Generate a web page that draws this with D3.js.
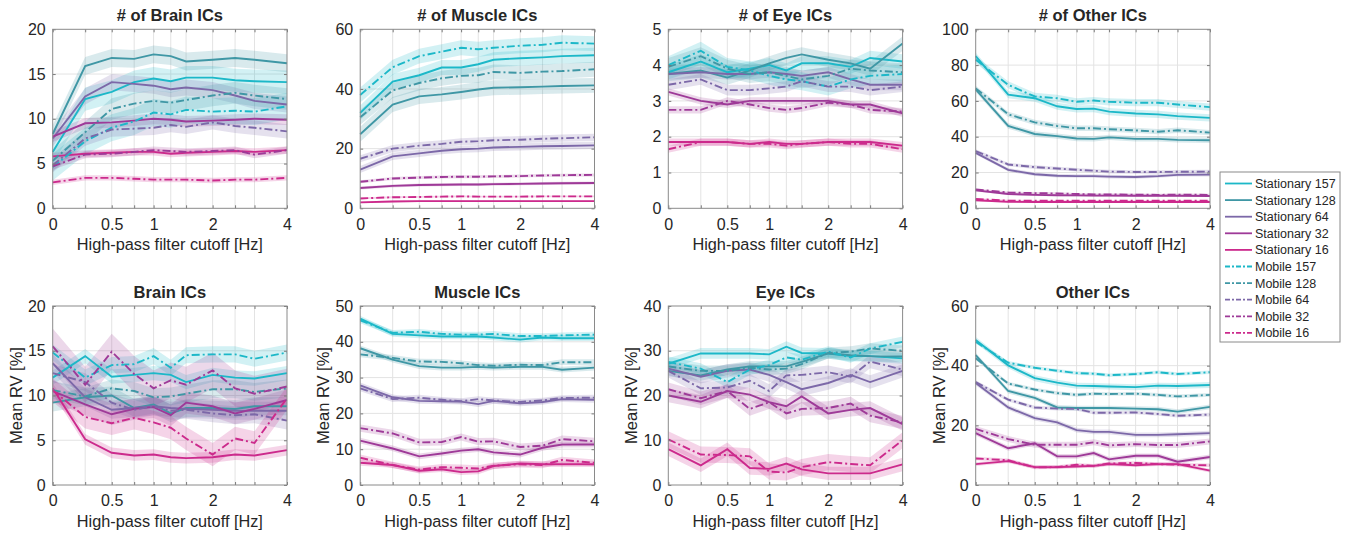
<!DOCTYPE html>
<html><head><meta charset="utf-8">
<script src="https://cdn.jsdelivr.net/npm/d3@7"></script>
<style>
html,body{margin:0;padding:0;background:#fff;}
svg text{font-family:"Liberation Sans",Arial,sans-serif;fill:#262626;}
</style></head>
<body><svg id="c" width="1347" height="533"></svg>
<script>
// ---------------- data ----------------
const cutoffs = [0, 0.25, 0.5, 0.75, 1, 1.25, 1.5, 2, 2.5, 3, 4];
const xTickLabels = ["0", "", "0.5", "", "1", "", "", "2", "", "", "4"];
const seriesNames = ["Stationary 157","Stationary 128","Stationary 64","Stationary 32","Stationary 16",
                     "Mobile 157","Mobile 128","Mobile 64","Mobile 32","Mobile 16"];
const seriesColors = ["#1cb8c8","#3f97a5","#7c68a8","#9e3a98","#cc2a8c",
                      "#1cb8c8","#3f97a5","#7c68a8","#9e3a98","#cc2a8c"];
const seriesMobile = [false,false,false,false,false,true,true,true,true,true];

const panelTitles = ["# of Brain ICs","# of Muscle ICs","# of Eye ICs","# of Other ICs",
                     "Brain ICs","Muscle ICs","Eye ICs","Other ICs"];
const yDomains = [[0,20],[0,60],[0,5],[0,100],[0,20],[0,50],[0,40],[0,60]];
const yTicks = [[0,5,10,15,20],[0,20,40,60],[0,1,2,3,4,5],[0,20,40,60,80,100],
                [0,5,10,15,20],[0,10,20,30,40,50],[0,10,20,30,40],[0,20,40,60]];
const yLabel = "Mean RV [%]";
const xLabel = "High-pass filter cutoff [Hz]";

const brainCount = [
 [6.3,12.2,13.0,14.1,14.5,14.2,14.6,14.6,14.3,14.2,14.1],
 [8.3,15.9,16.8,16.7,17.2,17.0,16.4,16.6,16.8,16.6,16.2],
 [7.8,12.5,14.1,13.9,13.7,13.3,13.5,13.2,12.6,12.0,11.6],
 [8.0,9.5,9.6,9.8,10.0,9.9,9.7,9.8,9.9,10.0,9.9],
 [5.8,6.1,6.2,6.3,6.3,6.1,6.2,6.3,6.4,6.3,6.5],
 [4.6,7.5,9.0,9.7,10.7,10.5,11.0,10.8,10.9,10.8,11.4],
 [5.3,8.5,11.1,11.7,12.0,11.8,12.1,12.6,12.9,12.6,12.2],
 [4.8,7.8,8.8,8.9,9.0,9.3,9.1,9.6,9.2,9.0,8.6],
 [4.7,6.0,6.1,6.3,6.5,6.4,6.3,6.4,6.5,6.0,6.5],
 [2.9,3.4,3.4,3.3,3.2,3.2,3.2,3.1,3.2,3.2,3.4]];
const brainCountCI = [1.3,1.0,0.9,0.6,0.4,1.5,1.2,0.8,0.4,0.3];

const muscleCount = [
 [32.0,42.5,44.6,47.2,47.2,48.3,49.8,50.3,50.6,51.0,51.3],
 [24.8,34.8,37.5,38.2,39.0,39.8,40.4,40.6,40.8,41.0,41.2],
 [13.0,17.4,18.4,19.3,19.8,20.0,20.4,20.6,20.8,20.9,21.1],
 [6.8,7.5,7.8,7.9,8.0,8.0,8.1,8.2,8.3,8.4,8.5],
 [2.0,2.3,2.4,2.4,2.4,2.4,2.4,2.4,2.4,2.4,2.4],
 [38.0,47.3,51.0,52.5,53.8,53.3,53.8,54.5,54.8,55.5,55.2],
 [30.5,39.5,42.0,43.6,44.4,44.6,45.7,45.4,45.8,46.0,46.6],
 [16.6,20.0,21.0,21.6,22.3,22.5,22.8,23.0,23.3,23.5,23.8],
 [8.9,10.0,10.3,10.5,10.6,10.6,10.7,10.8,11.0,11.1,11.2],
 [3.3,3.7,3.8,3.9,4.0,3.9,3.9,3.9,4.0,4.0,4.0]];
const muscleCountCI = [2.5,2.5,1.2,0.5,0.3,2.5,2.5,1.2,0.5,0.3];

const eyeCount = [
 [3.8,4.1,3.8,3.9,4.0,3.85,4.05,4.05,3.95,4.2,4.1],
 [3.75,3.85,3.65,3.85,4.05,4.2,4.3,4.15,4.05,3.9,4.6],
 [3.75,3.8,3.75,3.75,3.8,3.75,3.7,3.8,3.6,3.45,3.45],
 [3.25,3.0,2.9,3.0,3.0,3.0,3.0,3.0,2.9,2.9,2.65],
 [1.85,1.85,1.85,1.8,1.85,1.8,1.8,1.85,1.85,1.85,1.75],
 [4.0,4.4,3.95,3.85,3.7,3.6,3.55,3.4,3.6,3.7,3.75],
 [3.95,4.25,3.9,3.75,3.8,3.7,3.6,3.7,3.9,3.85,3.8],
 [3.45,3.6,3.3,3.3,3.35,3.4,3.55,3.4,3.4,3.3,3.4],
 [2.75,2.75,3.0,2.9,2.8,2.75,2.8,2.95,2.9,2.75,2.7],
 [1.65,1.85,1.85,1.8,1.8,1.75,1.8,1.85,1.8,1.8,1.65]];
const eyeCountCI = [0.2,0.2,0.15,0.1,0.1,0.25,0.25,0.15,0.1,0.1];

const otherCount = [
 [85.0,63.5,61.5,57.0,55.5,55.7,54.0,53.0,52.5,51.5,50.5],
 [66.5,46.0,41.5,40.3,39.0,38.8,39.6,38.8,38.8,38.2,38.0],
 [31.0,21.5,19.0,18.2,18.0,18.0,17.7,17.5,18.0,18.7,18.8],
 [10.0,8.0,7.5,7.3,7.2,7.1,7.1,7.0,7.0,7.0,6.9],
 [4.5,3.6,3.5,3.5,3.5,3.5,3.5,3.5,3.5,3.5,3.5],
 [83.0,69.0,62.5,61.5,59.5,60.2,59.5,59.0,59.0,58.0,56.5],
 [67.0,52.5,48.0,46.0,44.7,44.7,44.2,43.5,42.8,43.6,42.3],
 [32.0,24.5,23.0,22.2,21.5,21.0,20.5,20.3,20.3,20.4,20.5],
 [10.5,8.8,8.5,8.3,8.0,7.8,7.8,7.6,7.5,7.6,7.5],
 [5.2,4.3,4.2,4.2,4.2,4.2,4.2,4.2,4.2,4.2,4.2]];
const otherCountCI = [2.0,1.5,1.0,0.6,0.5,2.0,1.5,1.0,0.6,0.5];

const brainRV = [
 [12.0,14.4,12.1,12.3,12.5,12.3,11.5,12.3,12.0,11.9,12.5],
 [9.2,9.8,10.0,8.6,9.0,8.0,8.6,8.6,8.5,8.8,8.8],
 [13.6,9.8,8.4,8.6,8.8,8.6,8.5,8.4,8.3,8.3,8.3],
 [10.5,9.0,7.9,8.5,8.7,7.8,9.2,8.8,8.0,8.5,9.5],
 [10.8,5.1,3.6,3.3,3.4,3.1,3.0,3.1,3.4,3.3,3.9],
 [14.8,12.0,13.4,13.5,14.4,13.1,14.5,14.6,14.6,14.1,14.8],
 [10.6,9.9,10.8,10.5,9.8,9.9,10.2,10.7,10.7,10.4,10.8],
 [12.5,11.5,9.2,8.4,8.8,8.3,8.4,8.0,7.8,7.9,7.2],
 [15.5,11.2,14.9,12.4,10.8,11.7,11.2,12.8,10.8,10.2,11.0],
 [10.6,7.6,6.9,7.5,7.0,6.4,5.2,3.4,5.2,4.7,9.7]];
const brainRVCI = [0.8,1.0,1.0,1.2,0.6,0.9,1.0,1.0,2.0,1.3];

const muscleRV = [
 [46.5,42.2,41.8,41.5,41.5,41.5,41.2,40.6,41.2,41.0,41.0],
 [38.2,35.0,33.2,32.8,32.8,33.0,32.8,33.0,33.0,32.2,32.8],
 [27.8,24.5,23.5,23.4,23.3,22.6,23.5,22.8,23.2,24.0,23.8],
 [12.4,10.2,8.0,8.8,9.6,10.0,9.1,8.5,10.4,11.3,11.3],
 [6.2,5.6,4.0,4.4,3.6,3.8,5.3,6.0,5.8,5.8,5.8],
 [46.0,42.5,42.8,42.2,42.0,42.0,42.2,41.6,41.6,41.8,42.0],
 [36.5,35.5,34.5,34.4,34.0,33.5,33.3,33.6,33.5,34.3,34.3],
 [27.0,24.0,24.4,23.8,23.4,24.0,23.6,23.2,23.6,24.3,24.4],
 [15.9,14.4,11.9,12.0,13.4,12.1,12.2,10.6,11.0,12.8,12.2],
 [7.6,5.6,4.3,5.0,4.8,4.6,5.4,5.8,5.6,7.0,6.2]];
const muscleRVCI = [0.8,0.8,0.8,0.8,0.8,0.8,0.8,0.8,1.0,0.9];

const eyeRV = [
 [27.1,29.4,29.4,29.4,29.2,30.9,29.5,29.4,28.8,28.8,28.3],
 [25.5,24.5,25.8,26.5,26.5,26.5,27.5,29.4,29.0,28.8,28.7],
 [26.0,24.2,25.5,25.8,24.6,23.0,21.4,22.8,24.6,23.0,25.5],
 [20.0,18.6,21.0,20.2,18.5,17.6,19.8,16.0,16.8,17.2,13.6],
 [8.0,4.4,8.0,3.8,3.6,4.8,3.5,2.6,2.6,2.6,4.6],
 [27.5,26.0,23.0,25.8,26.8,28.5,28.0,29.8,28.5,30.5,32.0],
 [26.5,25.5,25.5,26.2,25.8,26.0,27.0,29.5,29.8,30.5,30.0],
 [25.5,21.6,21.8,23.3,21.0,24.5,24.6,25.2,24.2,27.6,25.8],
 [21.4,19.4,21.0,17.0,18.5,16.0,17.0,17.2,18.2,15.5,14.0],
 [10.2,6.8,6.7,6.4,3.0,2.8,4.0,5.1,4.7,4.4,10.0]];
const eyeRVCI = [1.2,1.2,1.5,1.5,1.5,1.2,1.2,1.5,1.5,1.8];

const otherRV = [
 [48.6,40.1,35.8,34.3,33.3,33.2,33.0,32.8,33.3,33.2,33.5],
 [43.5,31.5,29.2,26.0,25.8,25.8,25.8,25.6,25.4,24.6,26.2],
 [34.2,26.0,22.4,21.0,18.4,17.8,17.8,16.8,16.8,17.0,17.4],
 [17.4,12.3,14.0,9.6,9.6,10.7,8.6,9.8,9.8,7.8,9.4],
 [7.0,8.0,6.0,6.0,6.2,6.4,7.0,6.6,7.0,7.0,4.8],
 [48.0,41.0,39.3,38.3,37.5,37.3,36.8,37.2,37.8,37.2,37.8],
 [42.5,34.0,32.0,30.8,30.2,30.6,30.5,30.6,30.2,29.7,30.2],
 [34.5,28.6,26.0,25.6,25.5,24.2,24.2,24.3,23.8,23.2,23.6],
 [18.8,15.4,13.5,13.5,13.5,14.3,13.3,13.7,13.4,13.4,14.6],
 [8.9,8.3,5.9,6.0,6.8,6.4,7.2,7.4,7.0,6.8,6.6]];
const otherRVCI = [1.0,0.8,0.8,0.8,0.6,0.6,0.6,0.6,1.0,0.6];

// ---------------- drawing ----------------
const panelData = [brainCount, muscleCount, eyeCount, otherCount, brainRV, muscleRV, eyeRV, otherRV];
const panelCI = [brainCountCI, muscleCountCI, eyeCountCI, otherCountCI, brainRVCI, muscleRVCI, eyeRVCI, otherRVCI];

const svg = d3.select("#c");
const colLeft = [52.7, 360.2, 668.3, 975.7];
const rowTop = [29.3, 306];
const pw = 234.3, ph = 179;
const dashDot = "8,3,2,3";

panelData.forEach((data, p) => {
  const row = Math.floor(p / 4), col = p % 4;
  const g = svg.append("g").attr("transform", `translate(${colLeft[col]},${rowTop[row]})`);
  const x = d3.scaleSymlog().constant(1).domain([0, 4]).range([0, pw]);
  const y = d3.scaleLinear().domain(yDomains[p]).range([ph, 0]);

  // grid
  g.append("g").selectAll("line").data(cutoffs.slice(1, -1)).join("line")
    .attr("x1", d => x(d)).attr("x2", d => x(d)).attr("y1", 0).attr("y2", ph)
    .attr("stroke", "#e3e3e3").attr("stroke-width", 1);
  g.append("g").selectAll("line").data(yTicks[p].slice(1, -1)).join("line")
    .attr("x1", 0).attr("x2", pw).attr("y1", d => y(d)).attr("y2", d => y(d))
    .attr("stroke", "#e3e3e3").attr("stroke-width", 1);

  // bands
  const ci = panelCI[p];
  data.forEach((vals, s) => {
    const area = d3.area().x((d, i) => x(cutoffs[i]))
      .y0(d => y(Math.max(yDomains[p][0], d - ci[s]))).y1(d => y(d + ci[s]));
    g.append("path").datum(vals).attr("d", area)
      .attr("fill", seriesColors[s]).attr("fill-opacity", 0.2).attr("stroke", "none");
  });
  // lines
  data.forEach((vals, s) => {
    const line = d3.line().x((d, i) => x(cutoffs[i])).y(d => y(d));
    g.append("path").datum(vals).attr("d", line)
      .attr("fill", "none").attr("stroke", seriesColors[s]).attr("stroke-width", 1.9)
      .attr("stroke-dasharray", seriesMobile[s] ? dashDot : null);
  });

  // axes
  const xAxis = d3.axisBottom(x).tickValues(cutoffs).tickFormat((d, i) => xTickLabels[i])
    .tickSizeInner(-3).tickSizeOuter(0).tickPadding(10);
  const gx = g.append("g").attr("transform", `translate(0,${ph})`).call(xAxis);
  const xTop = d3.axisTop(x).tickValues(cutoffs).tickFormat("").tickSizeInner(-3).tickSizeOuter(0);
  const gxt = g.append("g").call(xTop);
  const yAxis = d3.axisLeft(y).tickValues(yTicks[p]).tickFormat(d3.format("~g"))
    .tickSizeInner(-3).tickSizeOuter(0).tickPadding(7);
  const gy = g.append("g").call(yAxis);
  const yRight = d3.axisRight(y).tickValues(yTicks[p]).tickFormat("").tickSizeInner(-3).tickSizeOuter(0);
  const gyr = g.append("g").attr("transform", `translate(${pw},0)`).call(yRight);
  [gx, gxt, gy, gyr].forEach(a => {
    a.select(".domain").remove();
    a.selectAll("line").attr("stroke", "#7a7a7a");
    a.selectAll("text").attr("font-size", 16).attr("fill", "#262626")
      .attr("font-family", '"Liberation Sans",Arial,sans-serif');
  });
  // box
  g.append("rect").attr("x", 0).attr("y", 0).attr("width", pw).attr("height", ph)
    .attr("fill", "none").attr("stroke", "#8a8a8a").attr("stroke-width", 1);

  // title
  g.append("text").attr("x", pw / 2).attr("y", -8).attr("text-anchor", "middle")
    .attr("font-size", 16.5).attr("font-weight", "bold").text(panelTitles[p]);
  // x label
  g.append("text").attr("x", pw / 2).attr("y", ph + 41.5).attr("text-anchor", "middle")
    .attr("font-size", 16.3).attr("fill", "#333").text(xLabel);
  // y label
  if (row === 1) {
    g.append("text").attr("transform", `translate(-31,${ph / 2}) rotate(-90)`)
      .attr("text-anchor", "middle").attr("font-size", 16.5).attr("fill", "#333").text(yLabel);
  }
});

// legend
const lg = svg.append("g").attr("transform", "translate(1220,172)");
lg.append("rect").attr("x", 0).attr("y", 0).attr("width", 120).attr("height", 170)
  .attr("fill", "#fff").attr("stroke", "#8a8a8a").attr("stroke-width", 1);
seriesNames.forEach((name, s) => {
  const yy = 11.5 + s * 16.6;
  lg.append("line").attr("x1", 5).attr("x2", 32).attr("y1", yy).attr("y2", yy)
    .attr("stroke", seriesColors[s]).attr("stroke-width", 1.8)
    .attr("stroke-dasharray", seriesMobile[s] ? "5,2,2,2" : null);
  lg.append("text").attr("x", 35).attr("y", yy + 4.5).attr("font-size", 12.5).text(name);
});
</script></body></html>
